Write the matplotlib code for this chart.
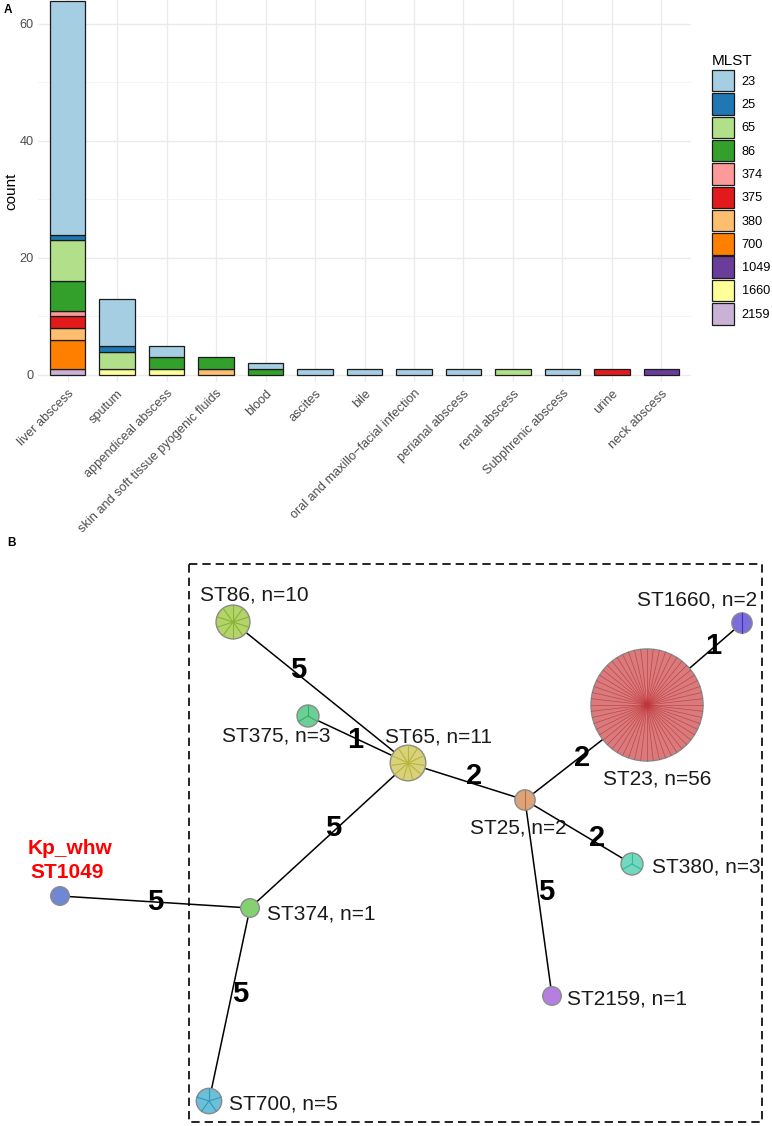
import matplotlib
matplotlib.use("Agg")
import matplotlib.pyplot as plt
from matplotlib.patches import Patch, Circle, Rectangle
import numpy as np
import colorsys
import matplotlib.colors as mcolors

plt.rcParams['font.family'] = ['Liberation Sans', 'DejaVu Sans']

# ---------------- Panel A data ----------------
sources = ['liver abscess', 'sputum', 'appendiceal abscess',
           'skin and soft tissue pyogenic fluids', 'blood', 'ascites', 'bile',
           'oral and maxillo\u2212facial infection', 'perianal abscess',
           'renal abscess', 'Subphrenic abscess', 'urine', 'neck abscess']
mlst_levels = ['23', '25', '65', '86', '374', '375', '380', '700', '1049', '1660', '2159']
mlst_colors = ['#A6CEE3', '#1F78B4', '#B2DF8A', '#33A02C', '#FB9A99', '#E31A1C',
               '#FDBF6F', '#FF7F00', '#6A3D9A', '#FFFF99', '#CAB2D6']
st23 = [40, 8, 2, 0, 1, 1, 1, 1, 1, 0, 1, 0, 0]
st25 = [1, 1, 0, 0, 0, 0, 0, 0, 0, 0, 0, 0, 0]
st65 = [7, 3, 0, 0, 0, 0, 0, 0, 0, 1, 0, 0, 0]
st86 = [5, 0, 2, 2, 1, 0, 0, 0, 0, 0, 0, 0, 0]
st374 = [1, 0, 0, 0, 0, 0, 0, 0, 0, 0, 0, 0, 0]
st375 = [2, 0, 0, 0, 0, 0, 0, 0, 0, 0, 0, 1, 0]
st380 = [2, 0, 0, 1, 0, 0, 0, 0, 0, 0, 0, 0, 0]
st700 = [5, 0, 0, 0, 0, 0, 0, 0, 0, 0, 0, 0, 0]
st1049 = [0, 0, 0, 0, 0, 0, 0, 0, 0, 0, 0, 0, 1]
st1660 = [0, 1, 1, 0, 0, 0, 0, 0, 0, 0, 0, 0, 0]
st2159 = [1, 0, 0, 0, 0, 0, 0, 0, 0, 0, 0, 0, 0]
counts_by_mlst = [st23, st25, st65, st86, st374, st375, st380, st700, st1049, st1660, st2159]

# ---------------- Panel B data ----------------
node_names = ['ST86', 'ST375', 'ST65', 'ST25', 'ST23', 'ST1660', 'ST380',
              'ST374', 'ST1049', 'ST700', 'ST2159']
node_counts = [10, 3, 11, 2, 56, 2, 3, 1, 1, 5, 1]
node_colors = ['#b3d46b', '#6ccf95', '#d7d27b', '#dca47a', '#d97a7c', '#7b6ddb',
               '#72d8c0', '#84d173', '#6f87d4', '#6bbfd8', '#b57fdf']
edges_from = ['ST86', 'ST375', 'ST65', 'ST25', 'ST23', 'ST25', 'ST25', 'ST65', 'ST1049', 'ST374']
edges_to = ['ST65', 'ST65', 'ST25', 'ST23', 'ST1660', 'ST380', 'ST2159', 'ST374', 'ST374', 'ST700']
edge_dist = [5, 1, 2, 2, 1, 2, 5, 5, 5, 5]

# layout (pixel positions of the MST drawing)
layout = {'ST86': (233, 622), 'ST375': (308, 716), 'ST65': (408, 763),
          'ST25': (525, 800), 'ST23': (647, 705), 'ST1660': (742, 623),
          'ST380': (632, 864), 'ST374': (250, 908), 'ST1049': (60, 896),
          'ST700': (209, 1101), 'ST2159': (552, 996)}
label_layout = {'ST86': (200, 593, 'left'), 'ST375': (330, 734, 'right'),
                'ST65': (385, 735, 'left'), 'ST25': (470, 826, 'left'),
                'ST23': (603, 777, 'left'), 'ST1660': (757, 598, 'right'),
                'ST380': (652, 865, 'left'), 'ST374': (267, 912, 'left'),
                'ST700': (229, 1102, 'left'), 'ST2159': (567, 997, 'left')}
edge_label_layout = [(298, 667), (355, 737), (474, 773), (582, 755), (713, 643),
                     (597, 835), (546, 890), (333, 825), (155, 900), (240, 992)]

W, H = 772, 1126
fig = plt.figure(figsize=(W / 100, H / 100), dpi=100)

# ---------- Panel B (background axes in pixel coords) ----------
axb = fig.add_axes([0, 0, 1, 1], zorder=0)
axb.set_xlim(0, W)
axb.set_ylim(H, 0)
axb.axis('off')

def cap_off(fs):
    return 0.36 * fs * 100 / 72

axb.add_patch(Rectangle((189, 564), 762 - 189, 1122 - 564, fill=False,
                        edgecolor='black', lw=1.2, linestyle=(0, (5, 3)), zorder=1))

for a, b in zip(edges_from, edges_to):
    (x1, y1), (x2, y2) = layout[a], layout[b]
    axb.plot([x1, x2], [y1, y2], color='black', lw=1.1, zorder=2,
             solid_capstyle='butt')

def darker(c, f=0.72):
    r, g, b = mcolors.to_rgb(c)
    h, l, s = colorsys.rgb_to_hls(r, g, b)
    return colorsys.hls_to_rgb(h, l * f, s)

for name, n, col in zip(node_names, node_counts, node_colors):
    x, y = layout[name]
    r = 8.45 + 0.85 * n
    axb.add_patch(Circle((x, y), r, facecolor=col, edgecolor='#8a8a8a', lw=1.0, zorder=3))
    if n > 1:
        dc = darker(col)
        for k in range(n):
            ang = np.pi / 2 + 2 * np.pi * k / n
            axb.plot([x, x + r * np.cos(ang)], [y, y - r * np.sin(ang)],
                     color=dc, lw=0.5 if n > 20 else 0.8, alpha=0.8 if n > 20 else 1,
                     zorder=3.5)

for name, n in zip(node_names, node_counts):
    if name in label_layout:
        lx, ly, ha = label_layout[name]
        axb.text(lx, ly + cap_off(15), f'{name}, n={n}', fontsize=15, ha=ha,
                 va='baseline', color='#1a1a1a', zorder=5)

axb.text(70, 847 + cap_off(15), 'Kp_whw', fontsize=15, fontweight='bold',
         color='#ff0000', ha='center', va='baseline', zorder=5)
axb.text(67, 870 + cap_off(15), 'ST1049', fontsize=15, fontweight='bold',
         color='#ff0000', ha='center', va='baseline', zorder=5)

for d, (lx, ly) in zip(edge_dist, edge_label_layout):
    axb.text(lx, ly + cap_off(21), str(d), fontsize=21, fontweight='bold',
             ha='center', va='baseline', color='black', zorder=5)

axb.text(7, 542 + cap_off(8.5), 'B', fontsize=8.5, fontweight='bold',
         ha='left', va='baseline')
axb.text(4, 9 + cap_off(8.5), 'A', fontsize=8.5, fontweight='bold',
         ha='left', va='baseline')

# ---------- Panel A ----------
left, right, top, bottom = 38, 691, 0, 382
axa = fig.add_axes([left / W, 1 - bottom / H, (right - left) / W, (bottom - top) / H], zorder=1)
x = np.arange(len(sources))
base = np.zeros(len(sources))
for lvl, col, vals in reversed(list(zip(mlst_levels, mlst_colors, counts_by_mlst))):
    vals = np.array(vals, dtype=float)
    mask = vals > 0
    axa.bar(x[mask], vals[mask], bottom=base[mask], width=0.72, color=col,
            edgecolor='#1a1a1a', linewidth=0.9, zorder=3)
    base += vals

axa.set_xlim(-0.6, len(sources) - 0.4)
axa.set_ylim(-1.2, 64.1)
axa.set_yticks([0, 20, 40, 60])
axa.set_yticks([10, 30, 50], minor=True)
axa.set_xticks(x)
axa.set_xticklabels(sources, rotation=45, ha='right', rotation_mode='anchor')
axa.tick_params(axis='both', which='both', length=0, labelsize=9.2,
                labelcolor='#4D4D4D', pad=3)
axa.tick_params(axis='x', pad=4)
axa.grid(True, which='major', color='#EBEBEB', lw=1.0, zorder=0)
axa.grid(True, which='minor', axis='y', color='#F2F2F2', lw=0.6, zorder=0)
for s in axa.spines.values():
    s.set_visible(False)
axa.set_facecolor('white')
axa.set_ylabel('count', fontsize=11)
axa.yaxis.set_label_coords((18 - left) / (right - left), 0.5)

handles = [Patch(facecolor=c, edgecolor='#1a1a1a', linewidth=0.9) for c in mlst_colors]
fig.legend(handles, mlst_levels, title='MLST', loc='upper left',
           bbox_to_anchor=(712 / W, 1 - 54 / H), frameon=False, fontsize=9.2,
           title_fontsize=11, handlelength=1.72, handleheight=2.2,
           labelspacing=0.15, handletextpad=0.6, borderpad=0, borderaxespad=0,
           alignment='left')

fig.savefig('out.png', dpi=100)
